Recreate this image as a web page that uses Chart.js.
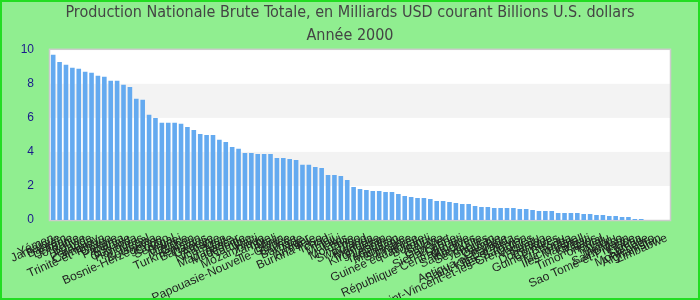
<!DOCTYPE html>
<html>
<head>
<meta charset="utf-8">
<script src="https://cdn.jsdelivr.net/npm/chart.js@4/dist/chart.umd.min.js"></script>
<style>
    body { margin: 0; background: #90ee90; }
    canvas { display: block; }
</style>
</head>
<body>
<canvas id="PnbChart" width="700" height="300"></canvas>
<script>
var titleLines = ["Production Nationale Brute Totale, en Milliards USD courant Billions U.S. dollars", "Année 2000"];

var pays = ["Yémen", "Jamaïque", "Bahreïn", "Lettonie", "Jordanie", "Bolivie", "Islande", "Paraguay", "Cameroun",
    "Trinité-et-Tobago", "Chypre", "Panama", "Estonie", "Ouganda", "Honduras", "Népal", "Botswana",
    "Bosnie-Herzégovine", "Congo", "Sénégal", "Brunei", "Maurice", "Gabon", "Turkménistan", "Bahamas",
    "Géorgie", "Albanie", "Nicaragua", "Malte", "Madagascar", "Macédoine", "Namibie", "Haïti", "Mozambique",
    "Zambie", "Mali", "Bénin", "Papouasie-Nouvelle-Guinée", "Guinée", "Barbade", "Niger", "Arménie",
    "Burkina Faso", "Tchad", "Fidji", "Malawi", "Laos", "Moldavie", "Togo", "Swaziland", "Rwanda", "Mongolie",
    "Kirghizistan", "Lesotho", "Tadjikistan", "Mauritanie", "Suriname", "Érythrée", "Guinée équatoriale",
    "Burundi", "Belize", "Guyana", "Cap-Vert", "Sierra Leone", "Djibouti", "République Centrafricaine",
    "Maldives", "Sainte-Lucie", "Seychelles", "Bhoutan", "Gambie", "Grenade", "Antigua-et-Barbuda",
    "Saint-Kitts-et-Nevis", "Îles Salomon", "Saint-Vincent-et-les-Grenadines", "Vanuatu", "Samoa", "Dominique",
    "Comores", "Guinée-Bissau", "Tonga", "Micronésie", "Îles Marshall", "Kiribati", "Palaos", "Timor oriental",
    "Tuvalu", "Nauru", "Monaco", "Saint-Marin", "Sao Tomé-et-Principe", "Libéria", "Somalie", "Monténégro",
    "Afghanistan", "Zimbabwe"];

var pnb = [9.71, 9.29, 9.12, 8.94, 8.88, 8.71, 8.65, 8.47, 8.41, 8.18, 8.18, 7.94, 7.82, 7.12, 7.06, 6.18, 6.0,
    5.71, 5.71, 5.71, 5.65, 5.47, 5.29, 5.06, 5.0, 5.0, 4.71, 4.59, 4.29, 4.18, 3.94, 3.94, 3.88, 3.88, 3.88,
    3.65, 3.65, 3.59, 3.53, 3.24, 3.24, 3.12, 3.06, 2.65, 2.65, 2.59, 2.35, 1.94, 1.82, 1.76, 1.71, 1.71, 1.65,
    1.65, 1.53, 1.41, 1.35, 1.29, 1.29, 1.24, 1.12, 1.12, 1.06, 1.0, 0.94, 0.94, 0.82, 0.76, 0.76, 0.71, 0.71,
    0.71, 0.71, 0.65, 0.65, 0.59, 0.53, 0.53, 0.53, 0.41, 0.41, 0.41, 0.41, 0.35, 0.35, 0.29, 0.29, 0.24, 0.24,
    0.18, 0.18, 0.06, 0.06, 0, 0, 0, 0];

var yTicks = [0, 2, 4, 6, 8, 10];

// fond vert, zone blanche, bandes grises
var fondPlugin = {
    id: 'fond',
    beforeDraw: function (chart) {
        var ctx = chart.ctx, a = chart.chartArea, y = chart.scales.y;
        ctx.save();
        ctx.fillStyle = '#90ee90';
        ctx.fillRect(0, 0, chart.width, chart.height);
        ctx.fillStyle = '#ffffff';
        ctx.fillRect(a.left, a.top, a.right - a.left, a.bottom - a.top);
        ctx.fillStyle = '#f3f3f3';
        for (var i = 1; i < yTicks.length - 1; i += 2) {
            var t = y.getPixelForValue(yTicks[i + 1]);
            var b = y.getPixelForValue(yTicks[i]);
            ctx.fillRect(a.left, t, a.right - a.left, b - t);
        }
        ctx.strokeStyle = '#cccccc';
        ctx.lineWidth = 1.5;
        ctx.strokeRect(a.left - 0.5, a.top - 0.5, a.right - a.left + 1, a.bottom - a.top + 1);
        ctx.restore();
    },
    afterDraw: function (chart) {
        var ctx = chart.ctx;
        ctx.save();
        ctx.strokeStyle = '#22dd22';
        ctx.lineWidth = 2;
        ctx.strokeRect(1, 1, chart.width - 2, chart.height - 2);
        ctx.restore();
    }
};

var PnbChart = new Chart(document.getElementById('PnbChart'), {
    type: 'bar',
    data: {
        labels: pays,
        datasets: [{
            label: 'PNB',
            data: pnb,
            backgroundColor: '#64aaf0'
        }]
    },
    options: {
        responsive: false,
        animation: false,
        layout: { padding: 0 },
        plugins: {
            legend: { display: false },
            tooltip: { enabled: false },
            title: {
                display: true,
                text: titleLines,
                color: '#444444',
                font: { family: "'Liberation Sans Narrow', 'DejaVu Sans Condensed', sans-serif", size: 16, weight: 'normal', lineHeight: 1.4 },
                padding: { top: 2, bottom: 3 }
            }
        },
        scales: {
            x: {
                grid: { display: false },
                border: { display: false },
                ticks: {
                    autoSkip: false,
                    minRotation: 24,
                    maxRotation: 24,
                    color: '#222222',
                    font: { family: "'Liberation Sans', Arial, sans-serif", size: 12 }
                },
                afterFit: function (scale) { scale.height = 80; }
            },
            y: {
                min: 0,
                max: 10,
                grid: { display: false },
                border: { display: false },
                afterBuildTicks: function (scale) {
                    scale.ticks = yTicks.map(function (v) { return { value: v }; });
                },
                ticks: {
                    padding: 8,
                    color: '#1a1a8c',
                    font: { family: "'Liberation Sans', Arial, sans-serif", size: 12 }
                },
                afterFit: function (scale) { scale.width = 50; }
            },
            marge: {
                position: 'right',
                min: 0,
                max: 10,
                grid: { display: false },
                border: { display: false },
                ticks: { display: false },
                afterFit: function (scale) { scale.width = 30; }
            }
        }
    },
    plugins: [fondPlugin]
});
</script>
</body>
</html>
